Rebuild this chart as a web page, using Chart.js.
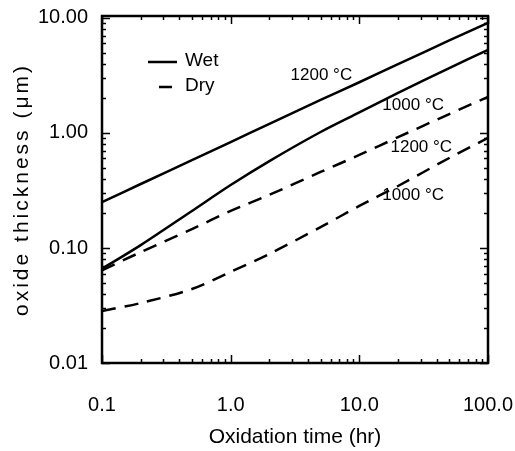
<!DOCTYPE html>
<html>
<head>
<meta charset="utf-8">
<script src="https://cdn.jsdelivr.net/npm/chart.js@4.4.1/dist/chart.umd.min.js"></script>
<style>
  body { margin: 0; background: #fff; }
</style>
</head>
<body>
<canvas id="myChart" width="515" height="451"></canvas>
<script>
// oxidation time in hours
const hours = [0.1, 0.2, 0.5, 1, 2, 5, 10, 20, 50, 100];
// oxide thickness in um
const wet1200 = [0.25, 0.36, 0.58, 0.834, 1.2, 1.94, 2.76, 3.97, 6.37, 9.05];
const wet1000 = [0.066, 0.106, 0.21, 0.353, 0.57, 1.02, 1.51, 2.23, 3.67, 5.27];
const dry1200 = [0.064, 0.092, 0.146, 0.21, 0.29, 0.458, 0.644, 0.92, 1.46, 2.06];
const dry1000 = [0.0283, 0.0332, 0.044, 0.062, 0.0888, 0.152, 0.232, 0.346, 0.606, 0.905];

const xMajor = [0.1, 1, 10, 100];
const xTickLabels = ["0.1", "1.0", "10.0", "100.0"];
const yMajor = [0.01, 0.1, 1, 10];
const yTickLabels = ["0.01", "0.10", "1.00", "10.00"];
const yTitle = "oxide thickness (μm)";

// curve labels, in data coords
const curveLabels = [
  { text: "1200 °C", x: 5.07, y: 3.19 },
  { text: "1000 °C", x: 26.2, y: 1.75 },
  { text: "1200 °C", x: 30.3, y: 0.755 },
  { text: "1000 °C", x: 26.2, y: 0.289 }
];

const FONT = "'Liberation Sans', Arial, sans-serif";
const DASH = [14, 9];

function pts(ys) {
  return hours.map((h, i) => ({ x: h, y: ys[i] }));
}

function allTicks(majors) {
  const out = [];
  majors.forEach((m, i) => {
    out.push({ value: m, major: true });
    if (i < majors.length - 1) {
      for (let k = 2; k <= 9; k++) out.push({ value: m * k, major: false });
    }
  });
  return out;
}

function labelFor(value, majors, labels) {
  const i = majors.findIndex(m => Math.abs(m - value) / m < 1e-6);
  return i >= 0 ? labels[i] : "";
}

function line(ys, dashed) {
  return {
    data: pts(ys),
    borderColor: "#000",
    borderWidth: 2.5,
    borderDash: dashed ? DASH : [],
    pointRadius: 0,
    fill: false,
    tension: 0.3
  };
}

// box with inward ticks on all four sides, like the old IDL plots
const frame = {
  id: "frame",
  afterDraw(chart) {
    const { ctx, chartArea: a, scales: { x, y } } = chart;
    ctx.save();
    ctx.strokeStyle = "#000";
    ctx.lineWidth = 1.5;
    ctx.beginPath();
    x.ticks.forEach(t => {
      const px = Math.round(x.getPixelForValue(t.value)) + 0.5;
      const len = t.major ? 8 : 4;
      ctx.moveTo(px, a.bottom); ctx.lineTo(px, a.bottom - len);
      ctx.moveTo(px, a.top); ctx.lineTo(px, a.top + len);
    });
    y.ticks.forEach(t => {
      const py = Math.round(y.getPixelForValue(t.value)) + 0.5;
      const len = t.major ? 8 : 4;
      ctx.moveTo(a.left, py); ctx.lineTo(a.left + len, py);
      ctx.moveTo(a.right, py); ctx.lineTo(a.right - len, py);
    });
    ctx.stroke();
    ctx.lineWidth = 2.5;
    ctx.strokeRect(a.left, a.top, a.width, a.height);

    // y title, spaced out like the Hershey font
    ctx.fillStyle = "#000";
    ctx.font = "21px " + FONT;
    ctx.letterSpacing = "3px";
    ctx.textAlign = "center";
    ctx.textBaseline = "middle";
    ctx.translate(22, (a.top + a.bottom) / 2);
    ctx.rotate(-Math.PI / 2);
    ctx.fillText(yTitle, 0, 0);
    ctx.restore();
  }
};

const notes = {
  id: "notes",
  afterDatasetsDraw(chart) {
    const { ctx, scales: { x, y } } = chart;
    ctx.save();
    ctx.fillStyle = "#000";
    ctx.font = "17px " + FONT;
    ctx.textAlign = "center";
    ctx.textBaseline = "middle";
    curveLabels.forEach(l => {
      ctx.fillText(l.text, x.getPixelForValue(l.x), y.getPixelForValue(l.y));
    });

    // legend
    ctx.strokeStyle = "#000";
    ctx.lineWidth = 2.5;
    ctx.beginPath();
    ctx.moveTo(148, 62); ctx.lineTo(177, 62);
    ctx.moveTo(159, 87); ctx.lineTo(172, 87);
    ctx.stroke();
    ctx.font = "19px " + FONT;
    ctx.textAlign = "left";
    ctx.fillText("Wet", 185, 61);
    ctx.fillText("Dry", 185, 86);
    ctx.restore();
  }
};

const ctx = document.getElementById("myChart");

new Chart(ctx, {
  type: "line",
  data: {
    datasets: [
      line(wet1200, false),
      line(wet1000, false),
      line(dry1200, true),
      line(dry1000, true)
    ]
  },
  options: {
    responsive: false,
    animation: false,
    layout: { padding: { left: 0, top: 16, right: 27, bottom: 0 } },
    plugins: { legend: { display: false }, tooltip: { enabled: false } },
    scales: {
      x: {
        type: "logarithmic",
        min: 0.1,
        max: 100,
        afterBuildTicks: s => { s.ticks = allTicks(xMajor); },
        afterFit: s => { s.height = 88; s.paddingLeft = 0; s.paddingRight = 0; },
        grid: { display: false },
        border: { display: false },
        ticks: {
          autoSkip: false,
          maxRotation: 0,
          padding: 22,
          color: "#000",
          font: { family: FONT, size: 20 },
          callback: v => labelFor(v, xMajor, xTickLabels)
        },
        title: {
          display: true,
          text: "Oxidation time (hr)",
          color: "#000",
          font: { family: FONT, size: 21 },
          padding: { top: 0, bottom: 1 }
        }
      },
      y: {
        type: "logarithmic",
        min: 0.01,
        max: 10.4,
        afterBuildTicks: s => { s.ticks = allTicks(yMajor); },
        afterFit: s => { s.width = 102; s.paddingTop = 0; s.paddingBottom = 0; },
        grid: { display: false },
        border: { display: false },
        ticks: {
          autoSkip: false,
          padding: 6,
          color: "#000",
          font: { family: FONT, size: 20 },
          callback: v => labelFor(v, yMajor, yTickLabels)
        }
      }
    }
  },
  plugins: [frame, notes]
});
</script>
</body>
</html>
